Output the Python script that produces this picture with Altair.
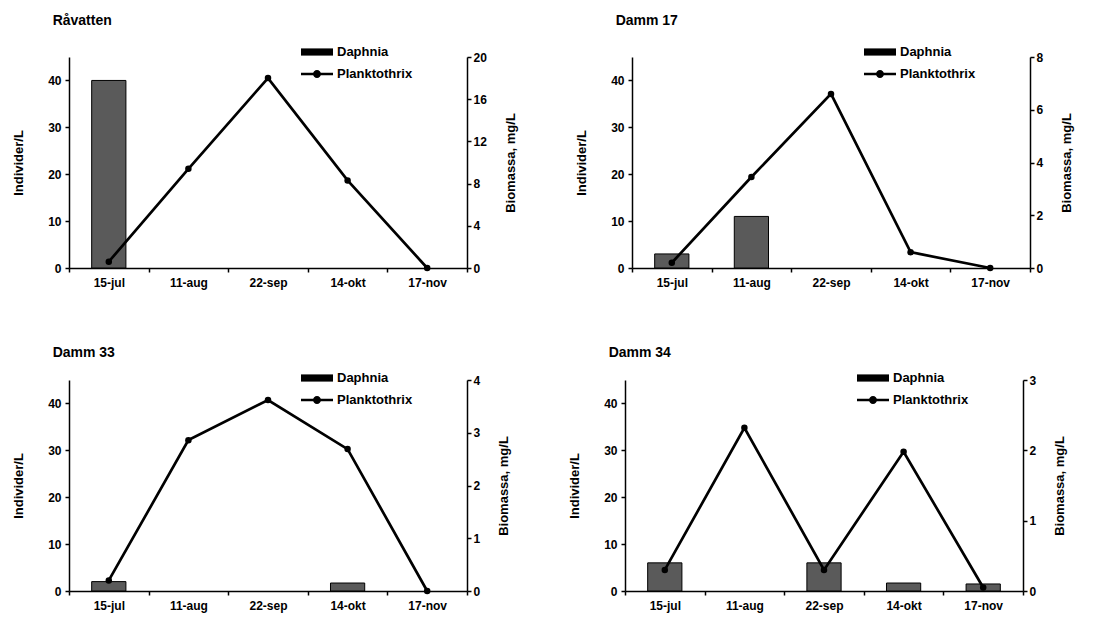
import altair as alt
import pandas as pd

dates = ["15-jul", "11-aug", "22-sep", "14-okt", "17-nov"]
panels = ["Råvatten", "Damm 17", "Damm 33", "Damm 34"]

daphnia_ravatten = [40, 0, 0, 0, 0]
daphnia_d17 = [3, 11, 0, 0, 0]
daphnia_d33 = [2, 0, 0, 1.7, 0]
daphnia_d34 = [6, 0, 6, 1.7, 1.5]

plankto_ravatten = [0.6, 9.4, 18.0, 8.3, 0]
plankto_d17 = [0.2, 3.45, 6.6, 0.6, 0]
plankto_d33 = [0.2, 2.86, 3.62, 2.69, 0]
plankto_d34 = [0.3, 2.32, 0.3, 1.98, 0.05]

right_max = [20, 8, 4, 3]
right_step = [4, 2, 1, 1]
left_ticks = [0, 10, 20, 30, 40]

daphnia = [daphnia_ravatten, daphnia_d17, daphnia_d33, daphnia_d34]
plankto = [plankto_ravatten, plankto_d17, plankto_d33, plankto_d34]

FONT = "Liberation Sans"
RECT = "M-2,-0.45H2V0.45H-2Z"
LINEDOT = "M-2,-0.16H2V0.16H-2ZM0.5,0A0.5,0.5,0,1,1,-0.5,0A0.5,0.5,0,1,1,0.5,0Z"

W, H = 398, 211


def panel(i, title_offset, legend_y):
    name = panels[i]
    df = pd.DataFrame({
        "date": dates,
        "daphnia": daphnia[i],
        "plankto": plankto[i],
        "series": ["Planktothrix"] * len(dates),
    })
    base = alt.Chart(df)
    x = alt.X(
        "date:N", sort=dates, title=None,
        scale=alt.Scale(paddingInner=0, paddingOuter=0),
        axis=alt.Axis(tickBand="extent", labelAngle=0, labelPadding=5),
    )
    bars = base.transform_filter("datum.daphnia > 0").mark_bar(
        width=alt.RelativeBandSize(0.43), color="#5a5a5a", stroke="black", strokeWidth=1
    ).encode(
        x=x,
        y=alt.Y("daphnia:Q", scale=alt.Scale(domain=[0, 45], nice=False),
                axis=alt.Axis(values=left_ticks, title="Individer/L",
                              titlePadding=22, labelPadding=4)),
    )
    rs = alt.Scale(domain=[0, right_max[i]], nice=False)
    rvals = list(range(0, right_max[i] + 1, right_step[i]))
    raxis = alt.Axis(orient="right", values=rvals, title="Biomassa, mg/L",
                     titleAngle=270, titleBaseline="top", titlePadding=18)
    yr = alt.Y("plankto:Q", scale=rs, axis=raxis)
    line = base.mark_line(color="black", strokeWidth=2.7).encode(x=x, y=yr)
    pts = base.mark_point(filled=True, color="black", size=42, opacity=1).encode(x=x, y=yr)
    leg = base.mark_point(filled=True, color="black", opacity=0).encode(
        x=x,
        y=yr,
        shape=alt.Shape(
            "series:N",
            scale=alt.Scale(domain=["Daphnia", "Planktothrix"], range=[RECT, LINEDOT]),
            legend=alt.Legend(
                title=None, orient="none", legendX=240, legendY=legend_y,
                symbolFillColor="black", symbolStrokeWidth=0,
                symbolOpacity=1, symbolSize=256,
                labelFontSize=13, labelFontWeight="bold", labelFont=FONT,
                labelColor="black", labelOffset=12, rowPadding=7,
            ),
        ),
    )
    right = alt.layer(line, pts, leg)
    return alt.layer(bars, right).resolve_scale(y="independent").properties(
        width=W, height=H,
        title=alt.TitleParams(name, anchor="start", dx=40, fontSize=14,
                              fontWeight="bold", font=FONT, color="black",
                              offset=title_offset),
    )


top = alt.hconcat(panel(0, 16, -13), panel(1, 16, -13), spacing=57).resolve_scale(
    shape="independent").resolve_legend(shape="independent")
bottom = alt.hconcat(panel(2, 10, -10), panel(3, 10, -10), spacing=57).resolve_scale(
    shape="independent").resolve_legend(shape="independent")
chart = alt.vconcat(top, bottom, spacing=58).resolve_scale(
    shape="independent"
).resolve_legend(shape="independent").properties(
    padding={"left": 12, "top": 14, "right": 5, "bottom": 5}
).configure(background="white").configure_view(stroke=None).configure_axis(
    labelFont=FONT, labelFontSize=12, labelFontWeight="bold", labelColor="black",
    titleFont=FONT, titleFontSize=13, titleFontWeight="bold", titleColor="black",
    domainColor="black", domainWidth=1.5, tickColor="black", tickWidth=1.5, tickSize=4,
    grid=False,
)

chart.save("out.html", embed_options={"renderer": "svg", "actions": False})
